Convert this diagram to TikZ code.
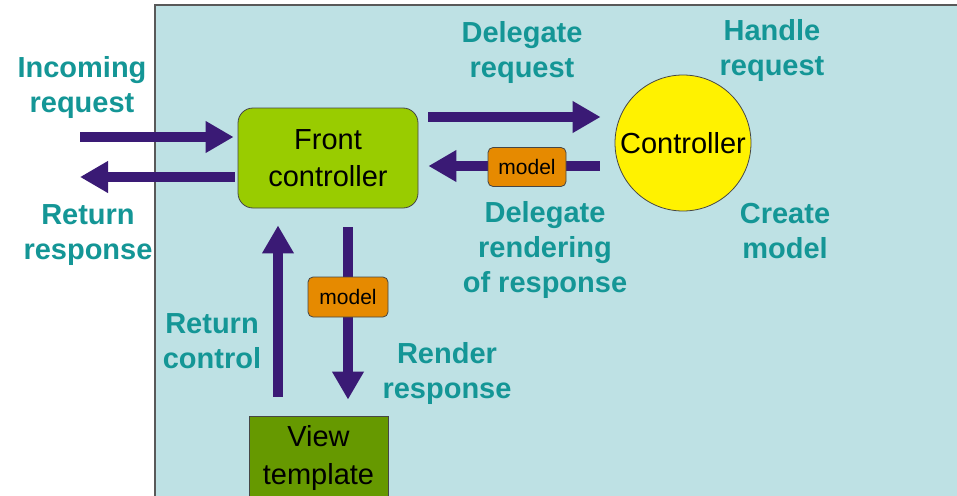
\documentclass[tikz,border=0pt]{standalone}
\usepackage{fontspec}
\setmainfont{Liberation Sans}
\usetikzlibrary{arrows.meta,calc,shapes.geometric}
\definecolor{lbl}{RGB}{20,150,150}
\definecolor{arr}{RGB}{58,26,117}
\definecolor{bgbox}{RGB}{190,225,228}
\definecolor{fcgreen}{RGB}{153,204,0}
\definecolor{modelorange}{RGB}{230,138,0}
\definecolor{viewgreen}{RGB}{102,153,0}
\definecolor{edgegray}{RGB}{70,70,70}
\tikzset{
  lab/.style={text=lbl,font=\fontsize{29}{35}\selectfont\bfseries,align=center,inner sep=0pt},
  bigarrow/.style={draw=arr,line width=10pt,-{Triangle[length=28pt,width=30pt]}},
  fcbox/.style={draw=edgegray,line width=0.8pt,fill=fcgreen,rounded corners=15pt,minimum width=180pt,minimum height=100pt,font=\fontsize{29}{37}\selectfont,align=center},
  ctrl/.style={circle,draw=edgegray,line width=0.8pt,fill=yellow,minimum size=136pt,inner sep=0pt,font=\fontsize{29}{35}\selectfont},
  modelbox/.style={draw=edgegray,line width=0.8pt,fill=modelorange,rounded corners=5pt,minimum width=78pt,minimum height=39pt,inner sep=0pt,font=\fontsize{21}{25}\selectfont},
  viewbox/.style={draw=edgegray,line width=0.8pt,fill=viewgreen,minimum width=139pt,minimum height=84pt,font=\fontsize{29}{38}\selectfont,align=center,inner sep=0pt}
}
\begin{document}
\begin{tikzpicture}[x=1pt,y=-1pt]
\useasboundingbox (0,0) rectangle (957,495);
\fill[white] (0,0) rectangle (957,495);
\draw[fill=bgbox,draw=gray!70!black,line width=1.5pt] (155,5) rectangle (980,520);

\node[fcbox] (fc) at (328,158) {Front\\controller};
\node[ctrl] (ct) at (683,143) {Controller};
\node[viewbox] (vt) at (318.5,458) {View\\template};

% incoming / return
\coordinate (inS) at (80,137);
\coordinate (retE) at (80,177);
\draw[bigarrow,shorten >=4pt] (inS) -- (inS -| fc.west);
\draw[bigarrow] ($(retE -| fc.west)+(-3,0)$) -- (retE);

% delegate request
\draw[bigarrow,shorten <=10pt,shorten >=14pt] (fc.east |- 0,117) -- (ct.west |- 0,117);
% delegate rendering
\draw[bigarrow,shorten <=15pt,shorten >=10pt] (ct.west |- 0,166) -- (fc.east |- 0,166);
\node[modelbox] (m1) at (527,167) {model};

% vertical arrows
\draw[bigarrow,shorten <=19pt,shorten >=17pt] (vt.north -| 278,0) -- (fc.south -| 278,0);
\draw[bigarrow,shorten <=19pt,shorten >=16pt] (fc.south -| 348,0) -- (vt.north -| 348,0);
\node[modelbox,minimum width=80pt,minimum height=40pt] (m2) at (348,297) {model};

% labels
\node[lab] (l1) at (82,88) {Incoming\\request};
\node[lab] (l2) at (88,235) {Return\\response};
\node[lab] (l3) at (522,53) {Delegate\\request};
\node[lab] (l4) at (772,51) {Handle\\request};
\node[lab] (l5) at (545,250) {Delegate\\rendering\\of response};
\node[lab] (l6) at (785,231) {Create\\model};
\node[lab] (l7) at (212,341) {Return\\control};
\node[lab] (l8) at (447,373) {Render\\response};
\end{tikzpicture}
\end{document}
